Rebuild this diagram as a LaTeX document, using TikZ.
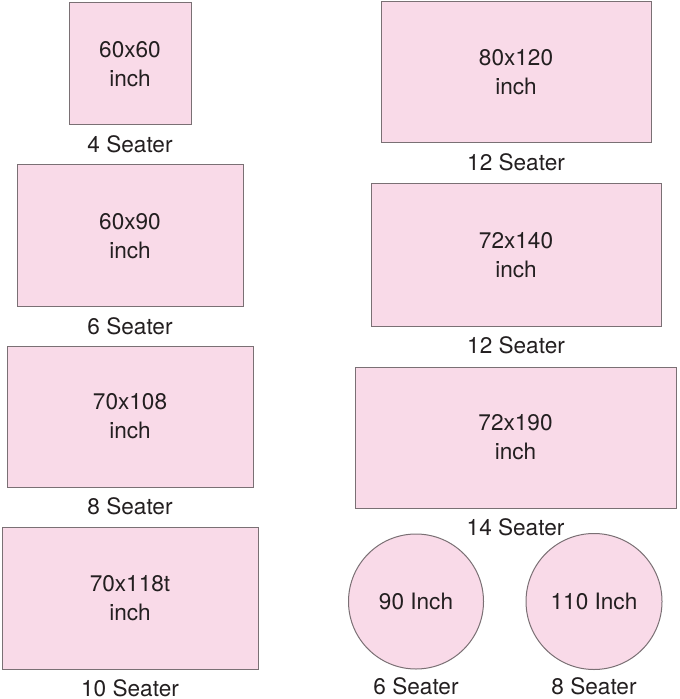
\documentclass[tikz,border=0pt]{standalone}
\usepackage{fontspec}
\setmainfont{TeX Gyre Heros}
\usetikzlibrary{positioning}
\definecolor{tablepink}{RGB}{249,218,232}
\definecolor{tableedge}{RGB}{122,112,116}
\definecolor{inkgray}{RGB}{35,31,32}

\begin{document}
\begin{tikzpicture}[
    x=0.5pt, y=-0.5pt,
    node distance=5.3pt,
    table/.style={draw=tableedge, fill=tablepink, line width=0.5pt, inner sep=0pt, align=center, text=inkgray, font=\fontsize{11.3}{14.5}\selectfont},
    roundtable/.style={table, circle},
    seats/.style={inner sep=0pt, text height=8.2pt, text depth=0pt, text=inkgray, font=\fontsize{11.3}{14.5}\selectfont}
]
\useasboundingbox (0,0) rectangle (679,699);

% left column
\node (t4) [table, minimum width=61pt, minimum height=61pt] at (130,64) {60x60\\inch};
\node (t6) [table, minimum width=113pt, minimum height=71pt] at (130,236) {60x90\\inch};
\node (t8) [table, minimum width=123pt, minimum height=70.5pt] at (130,416.5) {70x108\\inch};
\node (t10) [table, minimum width=128pt, minimum height=71pt] at (130,598) {70x118t\\inch};

\node (s4) [seats, below=of t4] {4 Seater};
\node (s6) [seats, below=of t6] {6 Seater};
\node (s8) [seats, below=of t8] {8 Seater};
\node (s10) [seats, below=of t10] {10 Seater};

% right column
\node (t12a) [table, minimum width=135pt, minimum height=70.5pt] at (516,72.5) {80x120\\inch};
\node (t12b) [table, minimum width=145pt, minimum height=71pt] at (516,255) {72x140\\inch};
\node (t14) [table, minimum width=160.5pt, minimum height=70.5pt] at (515.5,437.5) {72x190\\inch};
\node (r6) [roundtable, minimum size=67.5pt] at (416,601.5) {90 Inch};
\node (r8) [roundtable, minimum size=68pt] at (594,601.5) {110 Inch};

\node (s12a) [seats, below=of t12a] {12 Seater};
\node (s12b) [seats, below=of t12b] {12 Seater};
\node (s14) [seats, below=of t14] {14 Seater};
\node (sr6) [seats, below=4pt of r6] {6 Seater};
\node (sr8) [seats, below=4pt of r8] {8 Seater};

\end{tikzpicture}
\end{document}
